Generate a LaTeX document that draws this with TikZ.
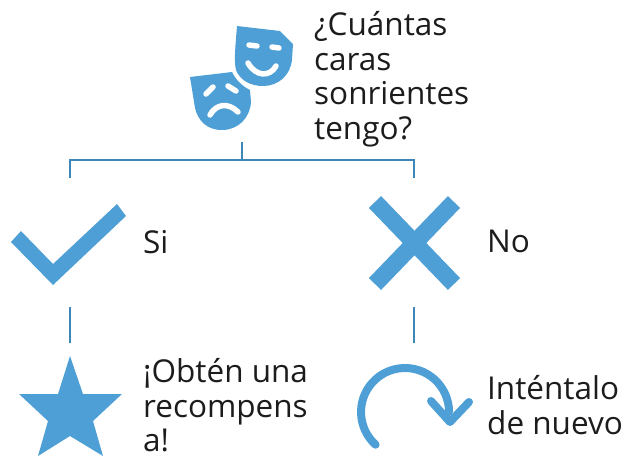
\documentclass[tikz,border=0pt]{standalone}
\usepackage{fontspec}
\setmainfont{Open Sans}
\definecolor{iconblue}{HTML}{4E9FD5}
\definecolor{linkblue}{HTML}{3F86B8}
\definecolor{textblack}{HTML}{1C1C1C}
\tikzset{
    label text/.style={anchor=north west, align=left, inner sep=0pt, text=textblack, font=\fontsize{31.5}{34.8}\selectfont},
    link/.style={draw=linkblue, line width=2.6pt},
    icon/.style={fill=iconblue, draw=none},
    face cut/.style={draw=white, line width=5.5pt, line cap=round}
}
\begin{document}
\begin{tikzpicture}[x=1pt,y=-1pt]
    \useasboundingbox (0,0) rectangle (624,456);
    % Draw sad mask
    \path[icon] (190,77) -- (232,72) .. controls (236,80) and (242,86) .. (250,90)
        -- (251,102) .. controls (250,118) and (238,130) .. (222,130)
        .. controls (206,130) and (198,120) .. (195,108) -- cycle;
    \draw[face cut] (206,94) -- (213,87);
    \draw[face cut] (228,86) -- (236,91);
    \draw[face cut] (210,115) .. controls (216,104) and (228,102) .. (238,112);
    % Draw happy mask
    \path[icon] (237,26) -- (280,31) -- (293,44) -- (292,60)
        .. controls (290,76) and (278,86) .. (263,86)
        .. controls (250,86) and (240,80) .. (236,70)
        .. controls (234,62) and (235,50) .. (237,26) -- cycle;
    \draw[face cut] (249,45) -- (257,46);
    \draw[face cut] (272,47) -- (279,48);
    \draw[face cut] (248,63) .. controls (256,77) and (270,77) .. (276,66);
    % Draw check, cross and star
    \path[icon] (117,204) -- (126,216) -- (53,285) -- (11,242) -- (21,231) -- (53,264) -- cycle;
    \draw[iconblue, line width=17pt] (375,202) -- (454,284);
    \draw[iconblue, line width=17pt] (454,202) -- (375,284);
    \path[icon] (70,356) -- (83,394) -- (122,394) -- (93,421) -- (103,456) -- (70,436)
        -- (38,456) -- (48,421) -- (19,394) -- (58,394) -- cycle;
    % Draw retry arrow
    \draw[iconblue, line width=8pt, line cap=round, line join=round]
        (375.6,444.7) arc[start angle=228, end angle=0, radius=44pt];
    \draw[iconblue, line width=8pt, line cap=round, line join=round]
        (431,401) -- (450,422) -- (469,402);
    % Draw labels
    \node[label text] (question) at (314,11) {¿Cuántas\\caras\\sonrientes\\tengo?};
    \node[label text] (yes) at (143,230) {Si};
    \node[label text] (no) at (487,230) {No};
    \node[label text] (reward) at (143,358) {¡Obtén una\\recompens\\a!};
    \node[label text] (retry) at (487,375) {Inténtalo\\de nuevo};
    % Draw connects
    \coordinate (masks) at (242,142);
    \coordinate (fork) at (242,160);
    \foreach \x/\y in {70/left, 414/right}{
        \coordinate (\y-top) at (\x,178);
        \coordinate (\y-bend) at (\x,160);
        \coordinate (\y-from) at (\x,307);
        \coordinate (\y-to) at (\x,343);
        \draw[link] (\y-from) -- (\y-to);
    }
    \draw[link] (masks) -- (fork);
    \draw[link] (left-top) -- (left-bend) -- (right-bend) -- (right-top);
\end{tikzpicture}
\end{document}
